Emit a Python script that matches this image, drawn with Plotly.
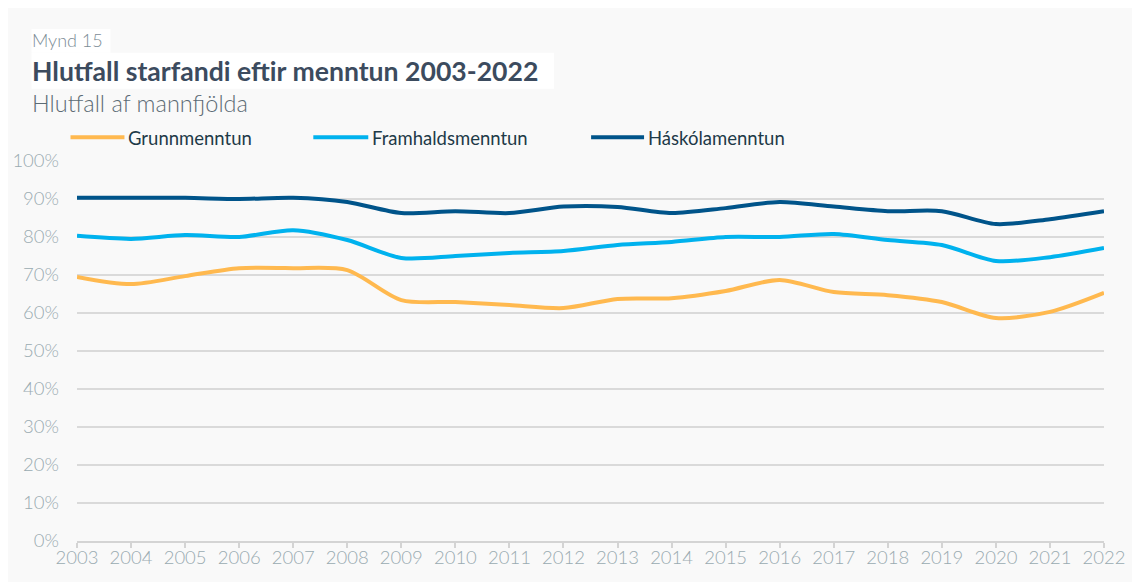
import plotly.graph_objects as go

years = list(range(2003, 2023))
grunn = [69.5, 67.6, 69.7, 71.8, 71.8, 71.3, 63.4, 62.9, 62.1, 61.3, 63.7, 63.9, 65.8, 68.7, 65.5, 64.7, 62.9, 58.7, 60.3, 65.3]
framh = [80.3, 79.5, 80.5, 80.0, 81.8, 79.2, 74.5, 75.0, 75.8, 76.3, 77.9, 78.7, 80.0, 80.0, 80.8, 79.2, 77.9, 73.7, 74.7, 77.1]
hasko = [90.3, 90.3, 90.3, 90.0, 90.3, 89.2, 86.3, 86.8, 86.3, 88.0, 87.9, 86.3, 87.6, 89.2, 88.0, 86.8, 86.8, 83.4, 84.7, 86.8]
names = ["Grunnmenntun", "Framhaldsmenntun", "Háskólamenntun"]
colors = ["#FFB94F", "#00B2EE", "#00548A"]
yticks = [0, 10, 20, 30, 40, 50, 60, 70, 80, 90, 100]
ytext = [f"{v}%" for v in yticks]

W, H = 1140, 582
OFF = 8  # page body margin
L, R, T, B = 68.5, 43.7, 153, 49
pw, ph = W - L - R, H - T - B


def px(xr):
    # reference-screen x -> paper x
    return (xr - OFF - L) / pw


def py(yr):
    # reference-screen y -> paper y
    return (H - B - (yr - OFF)) / ph


fig = go.Figure()
for i, (n, vals) in enumerate(zip(names, [grunn, framh, hasko])):
    fig.add_trace(go.Scatter(
        x=years, y=vals, name=n, mode="lines",
        line=dict(color=colors[i], width=4, shape="spline", smoothing=0.8),
        hovertemplate="%{x}: %{y:.1f}%<extra>" + n + "</extra>",
    ))

shapes = [
    dict(type="rect", xref="paper", yref="paper", x0=px(31), x1=px(110), y0=py(52.7), y1=py(29),
         fillcolor="white", line=dict(width=0), layer="below"),
    dict(type="rect", xref="paper", yref="paper", x0=px(31), x1=px(554), y0=py(88.7), y1=py(52.7),
         fillcolor="white", line=dict(width=0), layer="below"),
]
annotations = [
    dict(text="Mynd 15", xref="paper", yref="paper", x=px(29), y=py(40.5),
         xanchor="left", yanchor="middle", showarrow=False, align="left",
         font=dict(family="Lato", size=18, color="#7C8C96", weight=300)),
    dict(text="<b>Hlutfall starfandi eftir menntun 2003-2022</b>", xref="paper", yref="paper",
         x=px(29), y=py(70.5), xanchor="left", yanchor="middle", showarrow=False, align="left",
         font=dict(family="Lato", size=26.6, color="#3C4B5E")),
    dict(text="Hlutfall af mannfjölda", xref="paper", yref="paper", x=px(29), y=py(103.5),
         xanchor="left", yanchor="middle", showarrow=False, align="left",
         font=dict(family="Lato", size=23.5, color="#5C6B75", weight=300)),
]

leg_line = [(70, 124), (313, 368), (591, 644)]
leg_text = [128, 372, 648]
leg_y = 137.3
for i, n in enumerate(names):
    shapes.append(dict(type="line", xref="paper", yref="paper",
                       x0=px(leg_line[i][0]), x1=px(leg_line[i][1]), y0=py(leg_y), y1=py(leg_y),
                       line=dict(color=colors[i], width=4)))
    annotations.append(dict(text=n, xref="paper", yref="paper", x=px(leg_text[i] - 2), y=py(leg_y + 1),
                            xanchor="left", yanchor="middle", showarrow=False, align="left",
                            font=dict(family="Lato", size=18.5, color="#1E3A48")))

fig.update_layout(
    width=W, height=H,
    margin=dict(l=L, r=R, t=T, b=B, autoexpand=False),
    paper_bgcolor="#F9F9F9",
    plot_bgcolor="#F9F9F9",
    showlegend=False,
    xaxis=dict(
        range=[2003, 2022], tickmode="array", tickvals=years,
        ticktext=[str(y) for y in years],
        showgrid=False, zeroline=False, automargin=False,
        showline=True, linecolor="#D4D4D4", linewidth=1.5,
        ticks="outside", ticklen=5, tickcolor="#D4D4D4", tickwidth=1.5,
        ticklabelstandoff=-6,
        tickfont=dict(family="Lato", size=18.5, color="#9AABB1", weight=300),
    ),
    yaxis=dict(
        range=[0, 100], tickmode="array", tickvals=yticks, ticktext=ytext,
        showgrid=True, gridcolor="#DADADA", gridwidth=1.5,
        zeroline=False, showline=False, automargin=False,
        ticklabelstandoff=17,
        tickfont=dict(family="Lato", size=18.5, color="#9AABB1", weight=300),
    ),
    shapes=shapes,
    annotations=annotations,
)

fig.write_html("out.html")
